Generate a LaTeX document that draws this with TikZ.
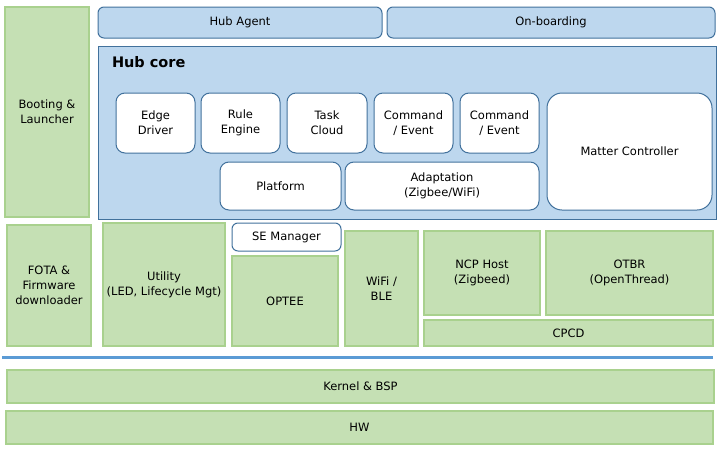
\documentclass[tikz,border=0pt]{standalone}
\usepackage{fontspec}
\setmainfont{DejaVu Sans}
\usepackage{tikz}
\usetikzlibrary{positioning}

\definecolor{grnfill}{HTML}{C5E0B4}
\definecolor{grnline}{HTML}{A9D18E}
\definecolor{blufill}{HTML}{BDD7EE}
\definecolor{bluline}{HTML}{41719C}
\definecolor{sepblue}{HTML}{5B9BD5}

\begin{document}
\begin{tikzpicture}[
  x=1pt, y=-1pt, inner sep=0pt, outer sep=0pt,
  font=\fontsize{11.5}{15}\selectfont,
  layer/.style={draw=grnline, fill=grnfill, line width=1.3pt, align=center},
  app/.style={draw=bluline, fill=blufill, line width=1pt, rounded corners=6pt, align=center},
  mod/.style={draw=bluline, fill=white, line width=1pt, rounded corners=9pt, align=center},
  sepline/.style={draw=sepblue, line width=3pt},
]
\useasboundingbox (0,0) rectangle (717,450);

% upper part
\node[layer, minimum width=84pt, minimum height=210pt] (boot) at (47,112) {Booting \&\\Launcher};
\node[app, minimum width=284pt, minimum height=31pt] (agent) at (240,22.5) {Hub Agent};
\node[app, minimum width=328pt, minimum height=31pt] (onboard) at (551,22.5) {On-boarding};
\node[app, rounded corners=0pt, minimum width=618pt, minimum height=173pt] (core) at (407,132.5) {};
\node[anchor=base west, font=\fontsize{14.5}{16}\selectfont\bfseries] (corelbl) at (112,67) {Hub core};

% hub core modules
\node[mod, minimum width=79pt, minimum height=60pt] (edge) at (155.5,123) {Edge\\Driver};
\node[mod, minimum width=79pt, minimum height=60pt] (rule) at (240.5,123) {Rule\\Engine};
\node[mod, minimum width=80pt, minimum height=60pt] (task) at (327,123) {Task\\Cloud};
\node[mod, minimum width=79pt, minimum height=60pt] (cmdA) at (413.5,123) {Command\\/ Event};
\node[mod, minimum width=79pt, minimum height=60pt] (cmdB) at (499.5,123) {Command\\/ Event};
\node[mod, rounded corners=15pt, minimum width=165pt, minimum height=117pt] (matter) at (629.5,151.5) {Matter Controller};
\node[mod, minimum width=121pt, minimum height=48pt] (platform) at (280.5,186) {Platform};
\node[mod, minimum width=194pt, minimum height=48pt] (adapt) at (442,186) {Adaptation\\(Zigbee/WiFi)};

% middleware
\node[layer, minimum width=84pt, minimum height=121pt] (fota) at (49,285.5) {FOTA \&\\Firmware\\downloader};
\node[layer, minimum width=122pt, minimum height=123pt] (utility) at (164,284.5) {Utility\\(LED, Lifecycle Mgt)};
\node[mod, rounded corners=6pt, minimum width=109pt, minimum height=28pt] (semgr) at (286.5,237) {SE Manager};
\node[layer, minimum width=106pt, minimum height=90pt] (optee) at (285,301) {OPTEE};
\node[layer, minimum width=73pt, minimum height=115pt] (wifi) at (381.5,288.5) {WiFi /\\BLE};
\node[layer, minimum width=116pt, minimum height=84pt] (ncp) at (482,273) {NCP Host\\(Zigbeed)};
\node[layer, minimum width=167pt, minimum height=84pt] (otbr) at (629.5,273) {OTBR\\(OpenThread)};
\node[layer, minimum width=289pt, minimum height=26pt] (cpcd) at (568.5,333) {CPCD};

% separator
\coordinate (sepL) at (2,357);
\coordinate (sepR) at (713,357);
\draw[sepline] (sepL) -- (sepR);

% bottom layers
\node[layer, minimum width=707pt, minimum height=33pt] (kernel) at (360.5,386.5) {Kernel \& BSP};
\node[layer, minimum width=707pt, minimum height=33pt] (hw) at (359.5,427.5) {HW};
\end{tikzpicture}
\end{document}
